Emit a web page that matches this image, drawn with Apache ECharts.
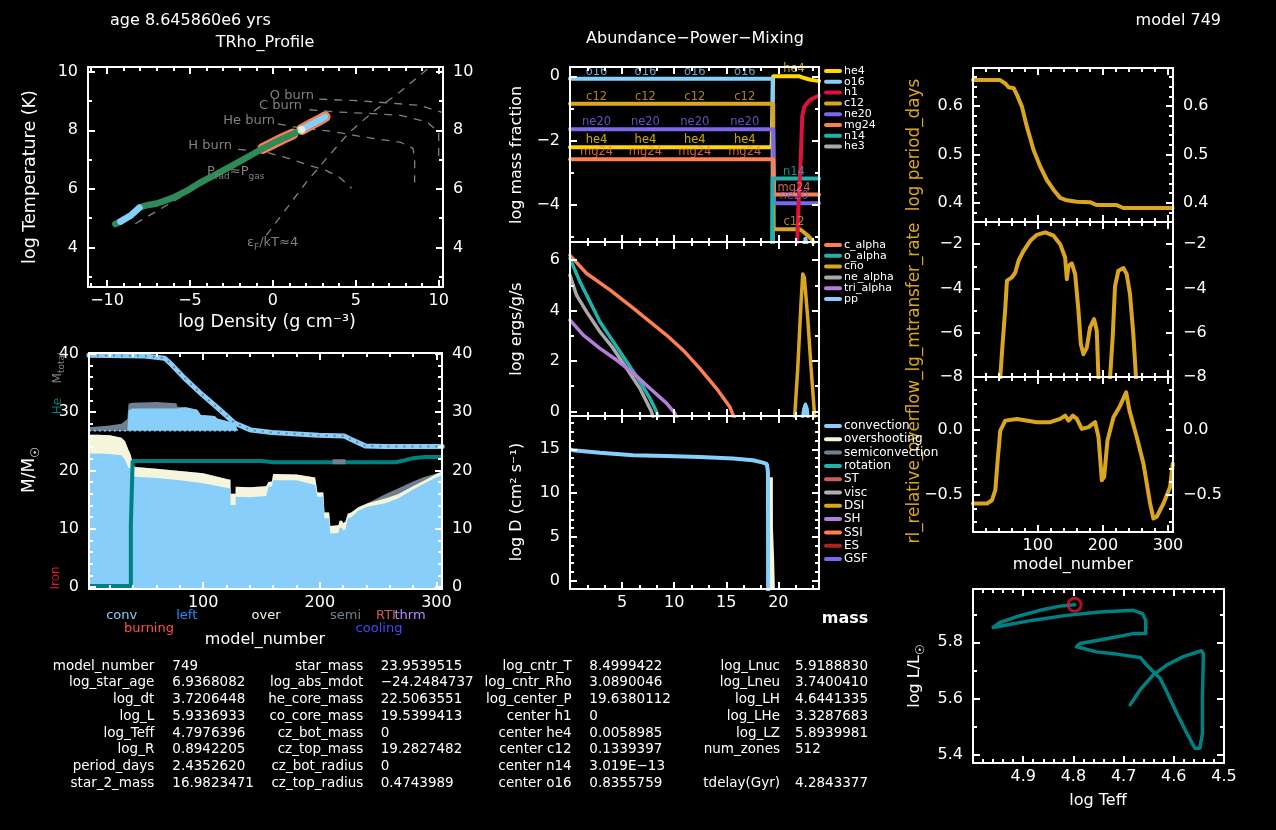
<!DOCTYPE html>
<html><head><meta charset="utf-8">
<script src="https://cdn.jsdelivr.net/npm/echarts@6/dist/echarts.min.js"></script>
<style>html,body{margin:0;padding:0;background:#000;}#c{width:1276px;height:830px;}</style>
</head><body><div id="c"></div>
<script>
// ================= DATA =================
// --- TRho profile ---
const rhoProf = [-9.5, -9.2, -8.6, -8.05, -7.6, -7.0, -6.0, -5.2, -4.4, -3.4, -2.4, -1.2, -0.6, 0.0, 0.6, 1.2, 1.75, 2.3, 2.8, 3.15];
const tProf   = [4.80, 4.88, 5.08, 5.36, 5.44, 5.50, 5.70, 5.93, 6.21, 6.50, 6.81, 7.19, 7.38, 7.55, 7.72, 7.87, 8.03, 8.20, 8.35, 8.46];
const trhoConvRanges = [[-9.25, -8.0], [1.7, 3.2]];
const trhoBurnRanges = [[-0.7, 1.25], [1.7, 3.2]];
const trhoCenter = [1.72, 8.02];
const hBurnRho = [-2.1, -0.4, 1.0, 2.2, 3.2, 4.0, 4.75];
const hBurnT   = [7.35, 7.25, 7.03, 6.80, 6.63, 6.40, 6.02];
const heBurnRho = [0.3, 1.6, 3.6, 5.6, 7.7, 8.45, 8.55, 8.55];
const heBurnT   = [8.22, 8.08, 7.96, 7.76, 7.59, 7.38, 7.0, 6.22];
const cBurnRho = [2.2, 4.0, 6.0, 7.7, 9.3, 10.0, 10.0];
const cBurnT   = [8.70, 8.62, 8.57, 8.51, 8.28, 7.94, 7.05];
const oBurnRho = [2.8, 4.8, 6.85, 8.85, 10.26];
const oBurnT   = [9.06, 9.02, 8.94, 8.85, 8.60];
const psiRho = [-0.40, 0.81, 2.02, 3.22, 4.63, 6.04, 7.66, 9.47];
const psiT   = [4.41, 5.32, 6.23, 7.03, 7.94, 8.63, 9.31, 10.16];
const pradRho = [-8.3, 1.5];
const pradT   = [4.81, 8.07];

// --- Kippenhahn ---
const kippModel = [2,10,20,30,33,36,38,40,42,60,80,100,121,123.4,123.5,127.8,127.9,140,154,156,159,160,180,196,198,203,204,208,209,216,217,219,220,222,224,227,233,241,256,267,279,290,301,305];
const kippConvTop = [22.9,22.9,22.8,22.6,21.8,20.4,20.4,19.0,18.9,18.7,18.3,17.8,17.0,16.9,14.1,14.1,15.5,15.4,15.6,17.2,17.3,18.3,18.3,17.5,15.5,15.5,11.8,11.8,9.2,9.3,10.2,10.2,9.7,9.9,11.8,12.0,13.1,13.8,14.4,15.2,16.6,17.8,18.9,19.2];
const kippOverTop = [26.1,26.1,26.0,25.6,25.0,23.5,22.6,20.8,20.6,20.3,19.9,19.5,18.5,18.4,16.0,16.0,17.2,17.1,17.3,18.0,18.1,19.4,19.3,18.8,16.2,16.2,12.8,12.8,10.5,10.6,11.4,11.4,11.0,11.2,12.6,12.8,13.7,14.4,15.2,15.9,17.2,18.3,19.5,19.8];
const kippSemiTop = [26.1,26.1,26.0,25.6,25.0,23.5,22.6,20.8,20.6,20.3,19.9,19.5,18.5,18.4,16.0,16.0,17.2,17.1,17.3,18.0,18.1,19.4,19.3,18.8,16.2,16.2,12.8,12.8,10.5,10.6,11.4,11.4,11.0,11.2,12.6,12.8,13.7,14.4,15.9,16.9,18.0,18.9,19.5,19.8];
const envModel   = [2, 10, 20, 30, 35, 36, 39, 60, 77, 78, 85, 95, 98, 110, 112, 125, 127, 130];
const envBase    = [26.8,26.8,26.8,26.8,26.8,26.8,26.8,26.8,26.8,26.8,26.8,26.8,26.8,26.8,26.8,26.8,26.8,26.8];
const envConvTop = [26.8,26.8,26.8,26.8,26.8,30.2,30.6,30.6,30.6,30.9,30.8,30.4,29.5,29.3,28.9,28.2,27.9,26.8];
const envSemiTop = [27.4,27.5,27.7,28.0,28.8,31.4,31.6,31.7,31.5,30.9,30.8,30.4,29.5,29.3,28.9,28.2,28.2,26.8];
const semiPatchModel = [211, 222];
const semiPatchVal   = [21.5, 21.5];
const mtModel = [2, 50, 67, 73, 84, 99, 113, 127, 141, 159, 184, 199, 221, 227, 239, 256, 305];
const mtVal   = [39.7, 39.6, 39.2, 38.1, 35.8, 33.0, 30.6, 28.1, 26.9, 26.5, 26.2, 26.0, 25.9, 25.3, 24.2, 24.1, 24.1];
const heCoreModel = [2, 38, 38, 39.5, 39.5, 150, 160, 265, 272, 280, 290, 305];
const heCoreVal   = [0.2, 0.2, 10.7, 10.7, 21.6, 21.6, 21.4, 21.4, 21.7, 22.1, 22.3, 22.3];

// --- Abundances (log mass fraction vs mass) ---
const he4Mass = [0, 19.35, 19.5, 22.03, 22.35, 22.99, 23.9];
const he4Val  = [-2.21, -2.21, 0.0, 0.0, -0.04, -0.10, -0.15];
const o16Mass = [0, 19.45, 19.46, 22.3, 22.6, 22.9];
const o16Val  = [-0.08, -0.08, -5.6, -5.6, -5.07, -5.6];
const h1Mass  = [21.7, 21.81, 21.94, 22.13, 22.29, 22.51, 22.99, 23.9];
const h1Val   = [-5.8, -5.2, -3.97, -2.72, -1.25, -0.94, -0.75, -0.6];
const c12Mass = [0, 19.5, 19.55, 22.03, 22.35, 22.83, 23.3, 23.5];
const c12Val  = [-0.86, -0.86, -4.77, -4.77, -4.84, -4.97, -5.13, -5.4];
const ne20Mass = [0, 19.5, 19.6, 23.9];
const ne20Val  = [-1.65, -1.65, -3.96, -3.96];
const mg24Mass = [0, 19.5, 19.6, 23.9];
const mg24Val  = [-2.59, -2.59, -3.69, -3.69];
const n14Mass = [19.4, 19.45, 23.9];
const n14Val  = [-5.6, -3.19, -3.19];
const he3Mass = [0, 23.9];
const he3Val  = [-7, -7];
const abCoreLabelMass = [2.55, 7.24, 11.98, 16.77];
const abEnvLabelMass = 21.5;

// --- Power (log ergs/g/s vs mass) ---
const cAlphaMass = [0, 1.6, 3.83, 6.07, 7.66, 9.26, 10.86, 12.45, 14.05, 15.33, 15.81];
const cAlphaVal  = [6.19, 5.47, 4.82, 4.10, 3.56, 3.03, 2.43, 1.71, 0.92, 0.19, -0.3];
const oAlphaMass = [0, 0.96, 1.92, 2.87, 4.15, 5.43, 6.70, 7.66, 8.30, 8.5];
const oAlphaVal  = [6.06, 5.14, 4.35, 3.56, 2.77, 1.98, 1.19, 0.53, 0.0, -0.3];
const neAlphaMass = [0, 0.64, 1.6, 2.87, 4.15, 5.43, 6.70, 7.82, 8.0];
const neAlphaVal  = [5.4, 4.6, 3.95, 3.16, 2.50, 1.71, 0.92, 0.0, -0.3];
const triAlphaMass = [0, 1.28, 2.87, 4.47, 6.07, 7.66, 9.26, 10.06, 10.3];
const triAlphaVal  = [3.62, 3.03, 2.50, 2.04, 1.52, 0.92, 0.33, -0.07, -0.3];
const cnoMass = [21.55, 21.86, 22.18, 22.34, 22.5, 22.82, 23.14, 23.46, 23.5];
const cnoVal  = [-0.3, 1.71, 4.35, 5.45, 5.3, 3.69, 1.71, -0.07, -0.3];
const ppMass = [22.3, 22.45, 22.6, 22.75, 22.85];
const ppVal  = [-0.3, 0.1, 0.28, 0.1, -0.3];

// --- Mixing (log D vs mass) ---
const convMass = [0, 0.3, 2.87, 6.07, 9.26, 12.45, 15.65, 17.56, 18.52, 18.9, 19.0, 19.02];
const convVal  = [15.0, 14.9, 14.6, 14.32, 14.24, 14.13, 13.94, 13.75, 13.48, 13.3, 12.4, -2];
const overMass = [19.1, 19.47, 19.48, 19.57, 19.58, 19.68, 19.69];
const overVal  = [11.8, 11.8, 6.0, 6.0, 3.0, 3.0, -2];

// --- History panels ---
const periodModel = [0.3, 42, 50, 55, 63, 68, 75.5, 83, 93.4, 103.6, 113.8, 124, 134.3, 144.5, 160, 180, 190.6, 221, 231.5, 307];
const periodVal   = [0.654, 0.654, 0.647, 0.639, 0.637, 0.623, 0.599, 0.558, 0.509, 0.475, 0.447, 0.427, 0.410, 0.405, 0.402, 0.401, 0.395, 0.395, 0.389, 0.389];
const mdotModel = [0.3, 41, 42.2, 45.8, 49.9, 52.5, 60.1, 65.3, 70.4, 78.1, 88.3, 98.5, 111.3, 124.1, 134.3, 141.9, 144.5, 147.1, 152.2, 157.3, 162.4, 166, 170.1, 175.2, 180.3, 186.4, 190.5, 193.1, 194, 210, 211, 215, 218.6, 223.7, 231.4, 236.5, 241.6, 246.7, 250.8, 252, 307];
const mdotVal   = [-9, -9, -8.0, -6.49, -4.9, -3.65, -3.5, -3.28, -2.74, -2.30, -1.85, -1.58, -1.47, -1.62, -2.0, -2.6, -3.58, -2.98, -2.87, -3.35, -5.01, -6.52, -6.97, -6.67, -5.76, -5.39, -5.9, -8.0, -9, -9, -8.0, -6.2, -3.9, -3.2, -3.08, -3.35, -4.26, -6.07, -8.0, -9, -9];
const rlModel = [0.3, 21.8, 29.5, 34.6, 38.2, 42.2, 49.9, 67.8, 98.5, 118.9, 134.3, 141.9, 147.1, 153.7, 159.9, 167.5, 177.8, 188, 193.2, 198.3, 201.9, 207, 216.2, 226.5, 235.7, 240.8, 252.1, 262.3, 272.5, 277.6, 282.7, 293, 303.2, 307.3];
const rlVal   = [-0.563, -0.563, -0.538, -0.462, -0.235, -0.008, 0.068, 0.081, 0.056, 0.056, 0.081, 0.106, 0.068, 0.106, 0.081, 0.005, 0.018, 0.056, -0.058, -0.386, -0.361, -0.083, 0.093, 0.182, 0.283, 0.144, -0.058, -0.260, -0.563, -0.677, -0.664, -0.563, -0.437, -0.260];

// --- HR track ---
const hrTeff = [4.687, 4.667, 4.641, 4.614, 4.581, 4.545, 4.541, 4.543, 4.543, 4.548, 4.558, 4.574, 4.594, 4.614, 4.627, 4.641, 4.654, 4.667, 4.714, 4.754, 4.794, 4.797, 4.787, 4.734, 4.681, 4.656, 4.656, 4.662, 4.681, 4.747, 4.814, 4.880, 4.960, 4.947, 4.914, 4.867, 4.827, 4.7976];
const hrL    = [5.577, 5.631, 5.684, 5.719, 5.749, 5.770, 5.760, 5.606, 5.476, 5.423, 5.423, 5.476, 5.547, 5.624, 5.671, 5.695, 5.719, 5.746, 5.758, 5.766, 5.784, 5.790, 5.796, 5.813, 5.831, 5.831, 5.879, 5.902, 5.914, 5.908, 5.896, 5.879, 5.853, 5.870, 5.891, 5.914, 5.929, 5.9337];

// --- Text block ---
const col1Names = ['model_number','log_star_age','log_dt','log_L','log_Teff','log_R','period_days','star_2_mass'];
const col1Vals  = ['749','6.9368082','3.7206448','5.9336933','4.7976396','0.8942205','2.4352620','16.9823471'];
const col2Names = ['star_mass','log_abs_mdot','he_core_mass','co_core_mass','cz_bot_mass','cz_top_mass','cz_bot_radius','cz_top_radius'];
const col2Vals  = ['23.9539515','\u221224.2484737','22.5063551','19.5399413','0','19.2827482','0','0.4743989'];
const col3Names = ['log_cntr_T','log_cntr_Rho','log_center_P','center h1','center he4','center c12','center n14','center o16'];
const col3Vals  = ['8.4999422','3.0890046','19.6380112','0','0.0058985','0.1339397','3.019E\u221213','0.8355759'];
const col4Names = ['log_Lnuc','log_Lneu','log_LH','log_LHe','log_LZ','num_zones','','tdelay(Gyr)'];
const col4Vals  = ['5.9188830','3.7400410','4.6441335','3.3287683','5.8939981','512','','4.2843377'];

// --- Legends ---
const abLegNames = ['he4','o16','h1','c12','ne20','mg24','n14','he3'];
const pwLegNames = ['c_alpha','o_alpha','cno','ne_alpha','tri_alpha','pp'];
const mixLegNames = ['convection','overshooting','semiconvection','rotation','ST','visc','DSI','SH','SSI','ES','GSF'];

// ================= STYLE =================
const FF = "'DejaVu Sans', 'Liberation Sans', sans-serif";
const WHITE = '#ffffff';
const COL = {
  lightblue:'#87cefa', green:'#2e8b57', coral:'#ff7f50', beige:'#f5f5dc', gray:'#808080',
  slate:'#708090', teal:'#008080', crimson:'#dc143c', gold:'#ffd700', goldenrod:'#daa520',
  mslate:'#7b68ee', lsg:'#20b2aa', dgray:'#a9a9a9', purple:'#b57edc', indianred:'#cd5c5c',
  firebrick:'#b22222', silver:'#b0b0b0'
};
const abLegColors = [COL.gold, COL.lightblue, COL.crimson, COL.goldenrod, COL.mslate, COL.coral, COL.lsg, COL.dgray];
const pwLegColors = [COL.coral, COL.lsg, COL.goldenrod, COL.dgray, COL.purple, COL.lightblue];
const mixLegColors = [COL.lightblue, COL.beige, COL.slate, COL.lsg, COL.indianred, COL.silver, COL.goldenrod, COL.purple, COL.coral, COL.firebrick, COL.mslate];

// ================= AXES =================
function ticks(a, b, step) {
  const r = [];
  for (let i = Math.ceil(a / step - 1e-6); i * step <= b + 1e-6; i++) r.push(+(i * step).toFixed(6));
  return r;
}
function fmt(dec) {
  return v => (v < -1e-9 ? '\u2212' : '') + Math.abs(v).toFixed(dec);
}
const xAxes = [], yAxes = [];
function addAxes(list, gi, dim, s) {
  const sides = dim === 'x' ? ['bottom', 'top'] : ['left', 'right'];
  let main = -1;
  sides.forEach(side => {
    const show = (s.labels || []).includes(side);
    const common = {gridIndex: gi, type: 'value', min: s.min, max: s.max, inverse: !!s.inverse,
      position: side, z: 10, splitLine: {show: false}, splitArea: {show: false}, scale: true};
    const idx = list.length;
    list.push(Object.assign({}, common, {
      axisLine: {show: true, onZero: false, lineStyle: {color: WHITE, width: 2}},
      axisTick: {show: true, inside: true, length: 7, customValues: s.majors, lineStyle: {color: WHITE, width: 2}},
      axisLabel: {show: show, customValues: s.majors, color: WHITE, fontSize: 16, fontFamily: FF,
        margin: dim === 'x' ? 6 : 10, formatter: fmt(s.dec || 0)}
    }));
    if (main < 0) main = idx;
    list.push(Object.assign({}, common, {
      axisLine: {show: false, onZero: false},
      axisTick: {show: true, inside: true, length: 4, customValues: s.minors, lineStyle: {color: WHITE, width: 2}},
      axisLabel: {show: false}
    }));
  });
  return main;
}
const grids = [
  {left: 88, top: 67, width: 355, height: 220},
  {left: 89, top: 353, width: 353, height: 236},
  {left: 570, top: 67, width: 249, height: 175},
  {left: 570, top: 242, width: 249, height: 174},
  {left: 570, top: 416, width: 249, height: 173},
  {left: 973, top: 68, width: 200, height: 154},
  {left: 973, top: 222, width: 200, height: 155},
  {left: 973, top: 377, width: 200, height: 155},
  {left: 973, top: 589, width: 251, height: 174}
];
const massX = (lab) => ({min: 0, max: 23.9, majors: [5, 10, 15, 20], minors: ticks(0, 23.9, 5 / 3), labels: lab});
const modelX = (lab) => ({min: 0.3, max: 307.7, majors: [100, 200, 300], minors: ticks(20, 300, 20), labels: lab});
const axSpec = [
  [{min: -11.15, max: 10.26, majors: [-10, -5, 0, 5, 10], minors: ticks(-11, 10, 1), labels: ['bottom']},
   {min: 2.65, max: 10.16, majors: [4, 6, 8, 10], minors: ticks(3, 10, 1), labels: ['left', 'right']}],
  [{min: 2.1, max: 304.8, majors: [100, 200, 300], minors: ticks(20, 300, 20), labels: ['bottom']},
   {min: -0.3, max: 40.1, majors: [0, 10, 20, 30, 40], minors: ticks(0, 40, 2), labels: ['left', 'right']}],
  [massX([]), {min: -5.17, max: 0.29, majors: [0, -2, -4], minors: ticks(-5, 0, 1), labels: ['left']}],
  [massX([]), {min: -0.18, max: 6.72, majors: [0, 2, 4, 6], minors: ticks(0, 6.72, 1), labels: ['left']}],
  [massX(['bottom']), {min: -0.94, max: 18.8, majors: [0, 5, 10, 15], minors: ticks(0, 18.8, 1), labels: ['left']}],
  [modelX([]), {min: 0.36, max: 0.679, majors: [0.4, 0.5, 0.6], minors: ticks(0.36, 0.679, 0.02), labels: ['left', 'right'], dec: 1}],
  [modelX([]), {min: -8, max: -1, majors: [-2, -4, -6, -8], minors: ticks(-8, -1, 1), labels: ['left', 'right']}],
  [modelX(['bottom']), {min: -0.78, max: 0.4, majors: [0, -0.5], minors: ticks(-0.78, 0.4, 0.1), labels: ['left', 'right'], dec: 1}],
  [{min: 4.5, max: 5.0, inverse: true, majors: [4.5, 4.6, 4.7, 4.8, 4.9], minors: ticks(4.5, 5.0, 0.02), labels: ['bottom'], dec: 1},
   {min: 5.37, max: 5.99, majors: [5.4, 5.6, 5.8], minors: ticks(5.37, 5.99, 0.1), labels: ['left'], dec: 1}]
];
const AX = axSpec.map((sp, gi) => [addAxes(xAxes, gi, 'x', sp[0]), addAxes(yAxes, gi, 'y', sp[1])]);

// ================= SERIES =================
const series = [];
function pairs(xs, ys) { return xs.map((x, i) => [x, ys[i]]); }
function line(gi, xs, ys, color, width, extra) {
  const s = {type: 'line', xAxisIndex: AX[gi][0], yAxisIndex: AX[gi][1], data: pairs(xs, ys),
    showSymbol: false, symbol: 'none', silent: true, clip: true, z: 2,
    lineStyle: {color: color, width: width, cap: 'round', join: 'round'}, itemStyle: {color: color}};
  series.push(Object.assign(s, extra || {}));
}
function area(gi, xs, ys, color) {
  line(gi, xs, ys, color, 0, {areaStyle: {color: color, opacity: 1, origin: 'start'}, lineStyle: {width: 0, color: color}});
}
function segment(xs, ys, r) {
  const ox = [], oy = [];
  xs.forEach((x, i) => { if (x >= r[0] && x <= r[1]) { ox.push(x); oy.push(ys[i]); } });
  return [ox, oy];
}

// TRho
const dash = {type: [8, 7]};
[[hBurnRho, hBurnT], [heBurnRho, heBurnT], [cBurnRho, cBurnT], [oBurnRho, oBurnT], [psiRho, psiT], [pradRho, pradT]]
  .forEach(p => line(0, p[0], p[1], COL.gray, 1.3, {lineStyle: Object.assign({color: COL.gray, width: 1.3}, dash)}));
trhoBurnRanges.forEach(r => { const sg = segment(rhoProf, tProf, r); line(0, sg[0], sg[1], COL.coral, 11); });
line(0, rhoProf, tProf, COL.green, 6.5);
trhoConvRanges.forEach(r => { const sg = segment(rhoProf, tProf, r); line(0, sg[0], sg[1], COL.lightblue, 6.5); });
series.push({type: 'scatter', xAxisIndex: AX[0][0], yAxisIndex: AX[0][1], data: [trhoCenter], symbolSize: 8,
  itemStyle: {color: COL.beige}, silent: true, z: 4});

// Kippenhahn: envelope zones, then a black mask below the envelope base, then the core zones
area(1, envModel, envSemiTop, COL.slate);
area(1, envModel, envConvTop, COL.lightblue);
const maskModel = envModel.concat([envModel[envModel.length - 1] + 3]);
const maskVal = envBase.concat([envBase[envBase.length - 1]]);
area(1, maskModel, maskVal, '#000000');
area(1, kippModel, kippSemiTop, COL.slate);
area(1, kippModel, kippOverTop, COL.beige);
area(1, kippModel, kippConvTop, COL.lightblue);
line(1, envModel, envBase, COL.lightblue, 1.5, {lineStyle: {color: COL.lightblue, width: 1.5, type: [2, 3]}});
line(1, mtModel, mtVal, COL.lightblue, 5);
line(1, mtModel, mtVal, COL.slate, 2, {lineStyle: {color: COL.slate, width: 2, type: [2, 6]}});
line(1, heCoreModel, heCoreVal, COL.teal, 4, {lineStyle: {color: COL.teal, width: 4, cap: 'butt'}});
line(1, semiPatchModel, semiPatchVal, COL.slate, 5, {lineStyle: {color: COL.slate, width: 5, cap: 'butt'}});

// Abundances
line(2, he3Mass, he3Val, COL.dgray, 4);
line(2, he4Mass, he4Val, COL.gold, 4);
line(2, o16Mass, o16Val, COL.lightblue, 4);
line(2, c12Mass, c12Val, COL.goldenrod, 4);
line(2, ne20Mass, ne20Val, COL.mslate, 4);
line(2, mg24Mass, mg24Val, COL.coral, 4);
line(2, n14Mass, n14Val, COL.lsg, 4);
line(2, h1Mass, h1Val, COL.crimson, 4);
function labelSeries(gi, items) {
  series.push({type: 'scatter', xAxisIndex: AX[gi][0], yAxisIndex: AX[gi][1], symbolSize: 0, silent: true, z: 5,
    data: items.map(it => ({value: [it[0], it[1]], label: {show: true, formatter: it[2], position: 'top', distance: 1,
      color: it[3], fontSize: 11.5, fontFamily: FF}}))});
}
const abItems = [];
[['o16', o16Val[0], COL.lightblue], ['c12', c12Val[0], COL.goldenrod], ['ne20', ne20Val[0], COL.mslate],
 ['he4', he4Val[0], COL.gold], ['mg24', mg24Val[0], COL.coral]].forEach(sp =>
  abCoreLabelMass.forEach(m => abItems.push([m, sp[1], sp[0], sp[2]])));
abItems.push([abEnvLabelMass, he4Val[3], 'he4', COL.gold]);
abItems.push([abEnvLabelMass, n14Val[2], 'n14', COL.lsg]);
abItems.push([abEnvLabelMass, mg24Val[3], 'mg24', COL.coral]);
abItems.push([abEnvLabelMass, ne20Val[3], 'ne20', COL.mslate]);
abItems.push([abEnvLabelMass, c12Val[3], 'c12', COL.goldenrod]);
labelSeries(2, abItems);

// Power
line(3, cAlphaMass, cAlphaVal, COL.coral, 3.5);
line(3, neAlphaMass, neAlphaVal, COL.dgray, 3.5);
line(3, oAlphaMass, oAlphaVal, COL.lsg, 3.5);
line(3, triAlphaMass, triAlphaVal, COL.purple, 3.5);
line(3, cnoMass, cnoVal, COL.goldenrod, 3.5);
line(3, ppMass, ppVal, COL.lightblue, 3.5, {areaStyle: {color: COL.lightblue, opacity: 1, origin: 'start'}});

// Mixing
area(4, overMass, overVal, COL.beige);
line(4, convMass, convVal, COL.lightblue, 4, {lineStyle: {color: COL.lightblue, width: 4, cap: 'butt'}});

// History
line(5, periodModel, periodVal, COL.goldenrod, 4);
line(6, mdotModel, mdotVal, COL.goldenrod, 4);
line(7, rlModel, rlVal, COL.goldenrod, 4);

// HR
line(8, hrTeff, hrL, COL.teal, 3.5);
series.push({type: 'scatter', xAxisIndex: AX[8][0], yAxisIndex: AX[8][1], silent: true, z: 5,
  data: [[hrTeff[hrTeff.length - 1], hrL[hrL.length - 1]]], symbol: 'circle', symbolSize: 13,
  itemStyle: {color: 'rgba(0,0,0,0)', borderColor: COL.crimson, borderWidth: 3}});

// ================= GRAPHIC TEXT =================
const gfx = [];
function txt(x, y, text, o) {
  o = o || {};
  const st = {text: text, fill: o.color || WHITE, fontSize: o.size || 16, fontFamily: FF, fontWeight: o.weight || 'normal',
    align: o.align || 'center', verticalAlign: 'middle', textAlign: o.align || 'center', textVerticalAlign: 'middle'};
  if (o.rich) st.rich = o.rich;
  gfx.push({type: 'text', x: x, y: y, rotation: o.rot || 0, z: 100, silent: true, style: st});
}
const R90 = Math.PI / 2;
const subRich = (sz) => ({s: {fontSize: sz, fontFamily: FF, padding: [sz * 0.9, 0, 0, 0]}});
// titles
txt(110, 21, 'age 8.645860e6 yrs', {align: 'left'});
txt(265, 43, 'TRho_Profile');
txt(695, 39, 'Abundance\u2212Power\u2212Mixing');
txt(1221, 21, 'model 749', {align: 'right'});
// axis titles
txt(30, 177, 'log Temperature (K)', {rot: R90, size: 17.5});
txt(267, 322, 'log Density (g cm\u207B\u00B3)', {size: 17.5});
txt(30, 470, 'M/M{s|\u2609}', {rot: R90, size: 17, rich: subRich(12)});
txt(265, 640, 'model_number');
txt(517, 155, 'log mass fraction', {rot: R90});
txt(517, 329, 'log ergs/g/s', {rot: R90});
txt(517, 502, 'log D (cm\u00B2 s\u207B\u00B9)', {rot: R90});
txt(845, 619, 'mass', {weight: 'bold'});
txt(915, 145, 'log period_days', {rot: R90, color: COL.goldenrod, size: 16.8});
txt(915, 383, 'rl_relative_overflow_lg_mtransfer_rate', {rot: R90, color: COL.goldenrod, size: 16.8});
txt(1073, 565, 'model_number');
txt(915, 676, 'log L/L{s|\u2609}', {rot: R90, rich: subRich(12)});
txt(1098, 801, 'log Teff');
// Kipp side labels
txt(58, 368, 'M{s|total}', {rot: R90, color: COL.gray, size: 12, rich: subRich(9)});
txt(58, 406, 'He', {rot: R90, color: COL.teal, size: 12});
txt(56, 578, 'Iron', {rot: R90, color: COL.crimson, size: 12});
// Kipp legend
[['conv', 121.7, 616, COL.lightblue], ['left', 186.7, 616, '#1e90ff'], ['over', 266, 616, COL.beige],
 ['semi', 345.5, 616, COL.slate], ['RTI', 386, 616, COL.indianred], ['thrm', 410, 616, '#b48cff'],
 ['burning', 149, 629, '#ff5050'], ['cooling', 379, 629, '#4848ff']].forEach(l => txt(l[1], l[2], l[0], {color: l[3], size: 13}));
// TRho annotations
const gR = {s: {fontSize: 9, fontFamily: FF, padding: [9, 0, 0, 0]}};
txt(232, 146, 'H burn', {align: 'right', color: COL.gray, size: 13});
txt(275, 121, 'He burn', {align: 'right', color: COL.gray, size: 13});
txt(302, 106, 'C burn', {align: 'right', color: COL.gray, size: 13});
txt(314, 96, 'O burn', {align: 'right', color: COL.gray, size: 13});
txt(207, 172, 'P{s|rad}\u2248P{s|gas}', {align: 'left', color: COL.gray, size: 13, rich: gR});
txt(247, 243, '\u03B5{s|F}/kT\u22484', {align: 'left', color: COL.gray, size: 13, rich: gR});
// legends
function legend(names, colors, x0, y0, dy, size) {
  names.forEach((n, i) => {
    const y = y0 + i * dy;
    gfx.push({type: 'line', z: 100, silent: true, shape: {x1: x0, y1: y, x2: x0 + 14, y2: y},
      style: {stroke: colors[i], lineWidth: 4, lineCap: 'round'}});
    txt(x0 + 18, y, n, {align: 'left', size: size});
  });
}
legend(abLegNames, abLegColors, 826, 71, 10.8, 11);
legend(pwLegNames, pwLegColors, 826, 245, 10.8, 11);
legend(mixLegNames, mixLegColors, 826, 426, 13.3, 12);
// bottom text block
const rowY0 = 666, rowDy = 16.76;
[[col1Names, col1Vals, 154.3, 172.3], [col2Names, col2Vals, 363.3, 380.7],
 [col3Names, col3Vals, 571.7, 589.3], [col4Names, col4Vals, 780, 795]].forEach(c => {
  c[0].forEach((n, i) => {
    const y = rowY0 + i * rowDy;
    if (n) txt(c[2], y, n, {align: 'right', size: 13.5});
    if (c[1][i]) txt(c[3], y, c[1][i], {align: 'left', size: 13.5});
  });
});

// ================= CHART =================
const chart = echarts.init(document.getElementById('c'), null, {renderer: 'canvas'});
chart.setOption({
  backgroundColor: '#000000',
  animation: false,
  textStyle: {fontFamily: FF},
  grid: grids.map(g => Object.assign({containLabel: false, outerBoundsMode: 'none', show: false}, g)),
  xAxis: xAxes,
  yAxis: yAxes,
  series: series,
  graphic: {elements: gfx}
});
</script></body></html>
